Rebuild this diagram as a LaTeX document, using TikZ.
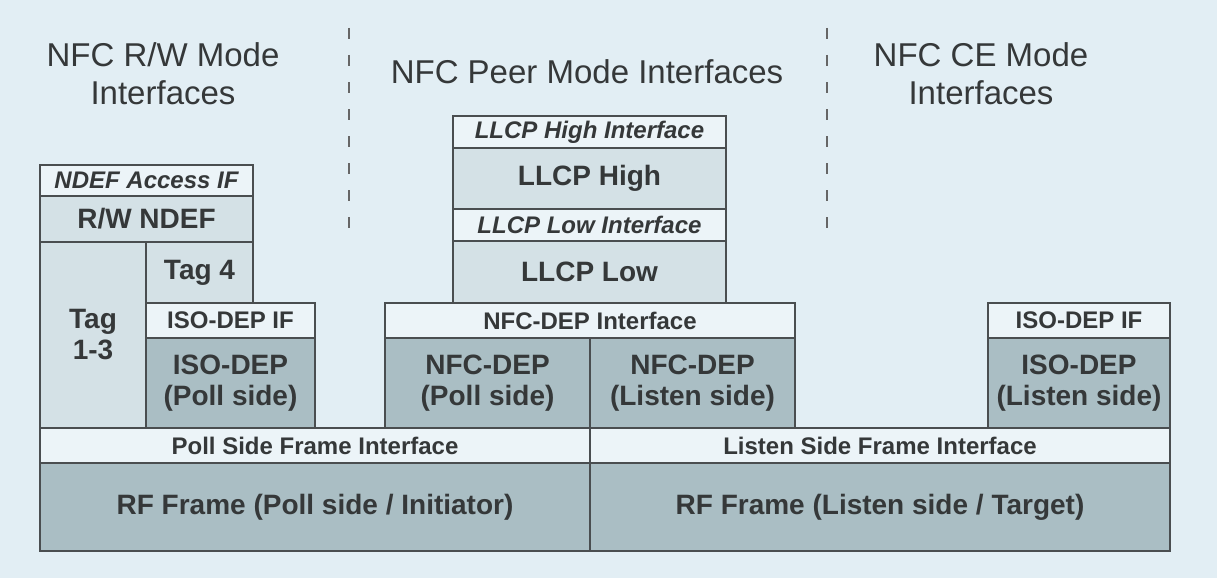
\documentclass[tikz,border=0pt]{standalone}
\usepackage{fontspec}
\setmainfont{Liberation Sans}
\definecolor{bgc}{HTML}{E2EEF4}
\definecolor{stripc}{HTML}{ECF4F8}
\definecolor{lightc}{HTML}{D4E1E6}
\definecolor{darkc}{HTML}{AABEC4}
\definecolor{linec}{HTML}{4A4E50}
\definecolor{txtc}{HTML}{353839}
\tikzset{
  layerbox/.style={draw=linec, line width=1.6pt, inner sep=0pt, outer sep=0pt, align=center, text=txtc},
  striplayer/.style={layerbox, fill=stripc, font=\fontsize{24}{27}\selectfont\bfseries},
  stripital/.style={layerbox, fill=stripc, font=\fontsize{24}{27}\selectfont\bfseries\itshape},
  lightlayer/.style={layerbox, fill=lightc, font=\fontsize{28}{31}\selectfont\bfseries},
  darklayer/.style={layerbox, fill=darkc, font=\fontsize{28}{31}\selectfont\bfseries},
  titletext/.style={align=center, text=txtc, font=\fontsize{33}{38}\selectfont, inner sep=0pt},
  divider/.style={draw=gray!80!black, line width=2pt, dash pattern=on 11pt off 16pt}
}
\newcommand{\layer}[7]{\node[#6, minimum width={#4-#2}, minimum height={#5-#3}] (#1) at ({(#2+#4)/2},{(#3+#5)/2}) {#7};}
\begin{document}
\begin{tikzpicture}[x=1pt,y=-1pt]
\fill[bgc] (0,0) rectangle (1217,578);
\useasboundingbox (0,0) rectangle (1217,578);

% titles
\node[titletext] (t1) at (163,74) {NFC R/W Mode\\Interfaces};
\node[titletext] (t2) at (587,72) {NFC Peer Mode Interfaces};
\node[titletext] (t3) at (981,74) {NFC CE Mode\\Interfaces};

% dividers
\coordinate (d1a) at (349,28); \coordinate (d1b) at (349,232);
\coordinate (d2a) at (827,28); \coordinate (d2b) at (827,232);
\draw[divider] (d1a) -- (d1b);
\draw[divider] (d2a) -- (d2b);

% bottom layers
\layer{rfp}{40}{463}{590}{551}{darklayer}{RF Frame (Poll side / Initiator)}
\layer{rfl}{590}{463}{1170}{551}{darklayer}{RF Frame (Listen side / Target)}
\layer{psfi}{40}{428}{590}{463}{striplayer}{Poll Side Frame Interface}
\layer{lsfi}{590}{428}{1170}{463}{striplayer}{Listen Side Frame Interface}

% R/W column
\layer{tag13}{40}{242}{146}{428}{lightlayer}{Tag\\1-3}
\layer{tag4}{146}{242}{253}{303}{lightlayer}{Tag 4}
\layer{isoif1}{146}{303}{315}{338}{striplayer}{ISO-DEP IF}
\layer{isopoll}{146}{338}{315}{428}{darklayer}{ISO-DEP\\(Poll side)}
\layer{rwndef}{40}{196}{253}{242}{lightlayer}{R/W NDEF}
\layer{ndefif}{40}{165}{253}{196}{stripital}{NDEF Access IF}

% Peer column
\layer{nfcpoll}{385}{338}{590}{428}{darklayer}{NFC-DEP\\(Poll side)}
\layer{nfclisten}{590}{338}{795}{428}{darklayer}{NFC-DEP\\(Listen side)}
\layer{nfcif}{385}{303}{795}{338}{striplayer}{NFC-DEP Interface}
\layer{llcplow}{453}{241}{726}{303}{lightlayer}{LLCP Low}
\layer{llcplowif}{453}{209}{726}{241}{stripital}{LLCP Low Interface}
\layer{llcphigh}{453}{148}{726}{209}{lightlayer}{LLCP High}
\layer{llcphighif}{453}{116}{726}{148}{stripital}{LLCP High Interface}

% CE column
\layer{isolisten}{988}{338}{1170}{428}{darklayer}{ISO-DEP\\(Listen side)}
\layer{isoif2}{988}{303}{1170}{338}{striplayer}{ISO-DEP IF}
\end{tikzpicture}
\end{document}
